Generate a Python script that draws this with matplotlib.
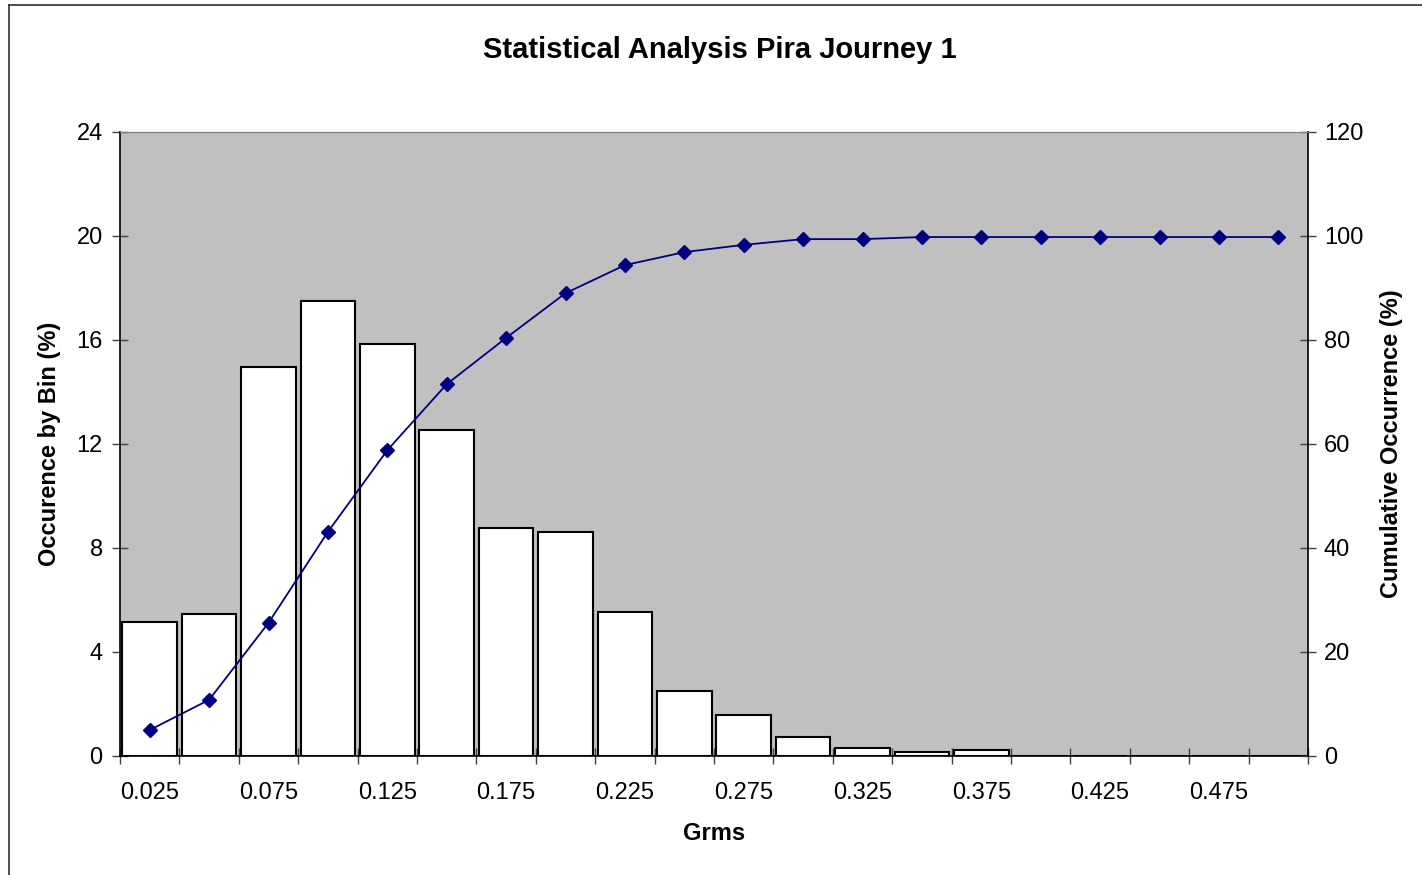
import matplotlib
matplotlib.use('Agg')
import matplotlib.pyplot as plt
from matplotlib.lines import Line2D
from matplotlib.ticker import FixedLocator

plt.rcParams['font.family'] = ['Liberation Sans', 'DejaVu Sans']

# Grms bins and the occurrence per bin (%)
bins = ['0.025', '0.05', '0.075', '0.1', '0.125', '0.15', '0.175', '0.2', '0.225', '0.25',
        '0.275', '0.3', '0.325', '0.35', '0.375', '0.4', '0.425', '0.45', '0.475', '0.5']
occurrence = [5.15, 5.46, 14.96, 17.5, 15.85, 12.54, 8.77, 8.62, 5.54, 2.5,
              1.58, 0.73, 0.31, 0.15, 0.23, 0.0, 0.0, 0.0, 0.0, 0.0]
cumulative = [5.0, 10.8, 25.6, 43.1, 58.8, 71.5, 80.4, 89.0, 94.4, 96.9,
              98.3, 99.4, 99.4, 99.8, 99.8, 99.8, 99.8, 99.8, 99.8, 99.8]

W, H = 1422, 875
fig = plt.figure(figsize=(W / 100, H / 100), dpi=100)
ax = fig.add_axes([120 / W, 1 - 756 / H, (1308 - 120) / W, (756 - 132) / H])
ax.set_facecolor('#C0C0C0')

x = list(range(len(bins)))
ax.bar(x, occurrence, width=0.92, color='white', edgecolor='black', linewidth=1.5, zorder=2)
ax.set_xlim(-0.5, len(bins) - 0.5)
ax.set_ylim(0, 24)
ax.set_yticks([0, 4, 8, 12, 16, 20, 24])

# ticks on bin edges, labels on every other bin centre
ax.xaxis.set_major_locator(FixedLocator([i - 0.5 for i in range(len(bins) + 1)]))
ax.xaxis.set_major_formatter(plt.NullFormatter())
ax.xaxis.set_minor_locator(FixedLocator(x[::2]))
ax.set_xticklabels(bins[::2], minor=True)
ax.tick_params(axis='x', which='minor', length=0, pad=19, labelsize=17)
ax.tick_params(axis='x', which='major', direction='inout', length=11, width=1, color='#404040')
ax.tick_params(axis='y', direction='inout', length=11, width=1, color='#404040', labelsize=17, pad=7)

for side in ['left', 'bottom']:
    ax.spines[side].set_linewidth(1.2)
ax.spines['top'].set_color('#808080')
ax.spines['right'].set_visible(False)

ax2 = ax.twinx()
ax2.plot(x, cumulative, color='#000080', linewidth=1.3, marker='D', markersize=7, zorder=3)
ax2.set_ylim(0, 120)
ax2.set_yticks([0, 20, 40, 60, 80, 100, 120])
ax2.tick_params(axis='y', direction='inout', length=11, width=1, color='#404040', labelsize=17, pad=6)
ax2.spines['right'].set_linewidth(1.2)
ax2.spines['top'].set_color('#808080')
ax2.spines['left'].set_visible(False)
ax2.spines['bottom'].set_visible(False)

ax.set_xlabel('Grms', fontsize=17, fontweight='bold', labelpad=13)
ax.set_ylabel('Occurence by Bin (%)', fontsize=17, fontweight='bold', labelpad=11)
ax2.set_ylabel('Cumulative Occurrence (%)', fontsize=17, fontweight='bold', labelpad=12)
fig.text(720 / W, 1 - 50 / H, 'Statistical Analysis Pira Journey 1',
         ha='center', va='center', fontsize=21, fontweight='bold')

# outer chart border (left and top edges)
fig.add_artist(Line2D([8.5 / W, 8.5 / W], [0, 1 - 5 / H], color='#303030', linewidth=1.2))
fig.add_artist(Line2D([8.5 / W, 1], [1 - 5 / H, 1 - 5 / H], color='#303030', linewidth=1.2))

fig.savefig('out.png', dpi=100)
